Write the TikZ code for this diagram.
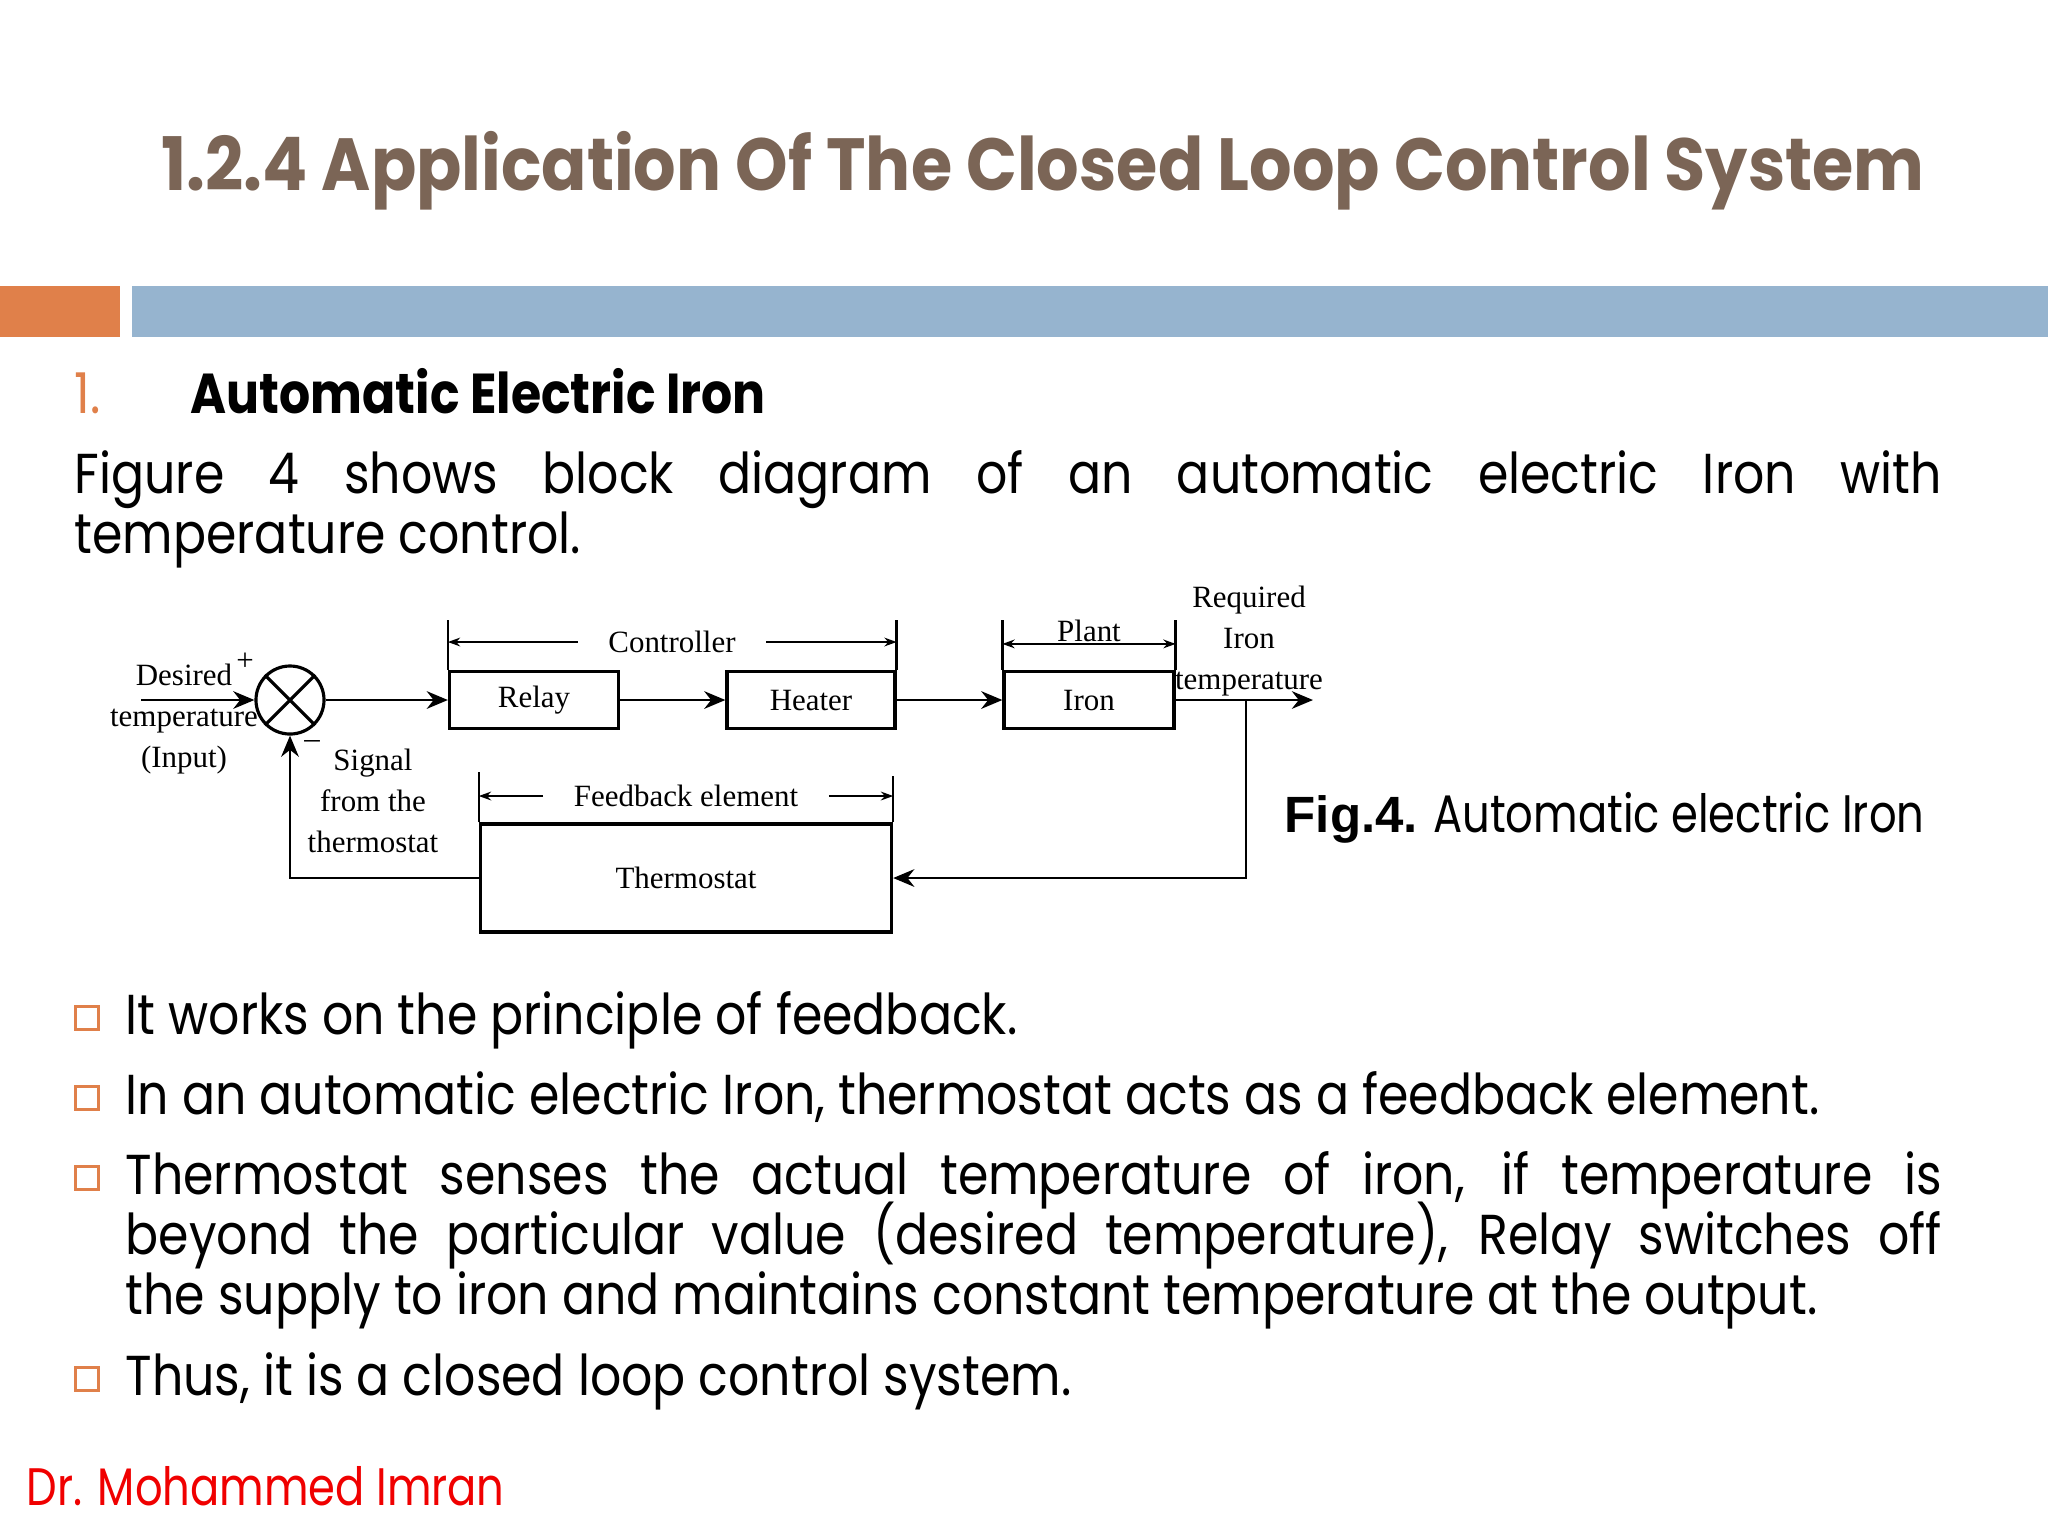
\documentclass[tikz,border=0pt]{standalone}
\usepackage{fontspec}
\setmainfont{Poppins}[FakeStretch=0.82]
\newfontfamily\bodyfont{Poppins}[FakeStretch=0.87]
\newfontfamily\titlefont{Poppins}[FakeStretch=0.905]
\newfontfamily\diagfont{Liberation Serif}
\newfontfamily\arialfont{Liberation Sans}
\usepackage{tikz}
\usetikzlibrary{arrows.meta, positioning, calc}
\definecolor{TitleBrown}{HTML}{7B6556}
\definecolor{BarOrange}{HTML}{E0804A}
\definecolor{BarBlue}{HTML}{96B4CF}
\definecolor{FootRed}{HTML}{F00000}
\setlength{\normallineskiplimit}{-20pt}
\tikzset{
  block/.style={rectangle, draw=black, line width=0.9pt, inner sep=0pt,
    font=\diagfont\fontsize{8.8}{11.7}\selectfont, minimum height=0.57cm},
  summer/.style={circle, draw=black, line width=0.9pt, minimum size=0.68cm, inner sep=0pt},
  arrow/.style={-{Stealth[length=6pt,width=5pt]}, line width=0.8pt},
  dimline/.style={-{Stealth[length=3.5pt,width=2.5pt]}, line width=0.5pt},
  dimboth/.style={{Stealth[length=3.5pt,width=2.5pt]}-{Stealth[length=3.5pt,width=2.5pt]}, line width=0.5pt},
  tickline/.style={line width=0.7pt},
  diaglabel/.style={font=\diagfont\fontsize{8.8}{11.7}\selectfont, inner sep=0pt, align=center},
  bodytext/.style={font=\bodyfont\fontsize{16}{17.07}\selectfont,
    inner sep=0pt, anchor=base west, align=justify},
  bulletbox/.style={draw=BarOrange, line width=0.8pt, minimum size=0.23cm, inner sep=0pt},
}

\begin{document}
\setlength{\lineskiplimit}{-20pt}
\begin{tikzpicture}[x=0.01cm, y=-0.01cm]
  \useasboundingbox (0,0) rectangle (2048,1535);
  \fill[white] (0,0) rectangle (2048,1535);

  % Title and bars
  \node[anchor=base, inner sep=0pt, text=TitleBrown, font=\titlefont\bfseries\fontsize{21}{24}\selectfont]
    (title) at (1043,190) {1.2.4 Application Of The Closed Loop Control System};
  \fill[BarOrange] (0,286) rectangle (120,337);
  \fill[BarBlue] (132,286) rectangle (2048,337);

  % Heading
  \node[anchor=base west, inner sep=0pt, text=BarOrange, font=\bodyfont\fontsize{16}{18}\selectfont]
    (num) at (74,413) {1.};
  \node[anchor=base west, inner sep=0pt, font=\bodyfont\bfseries\fontsize{16}{18}\selectfont]
    (heading) at (190,413) {Automatic Electric Iron};

  % Intro
  \node[bodytext, text width=18.66cm] (intro) at (74,493)
    {Figure 4 shows block diagram of an automatic electric Iron with\linebreak temperature control.};

  % Blocks
  \node[summer] (sum) at (290,700) {};
  \draw[line width=0.9pt] (sum.north west) -- (sum.south east)
    (sum.north east) -- (sum.south west);
  \node[block, minimum width=1.69cm] (relay) at (534,700) {Relay};
  \node[block, minimum width=1.68cm] (heater) at (811,700) {Heater};
  \node[block, minimum width=1.70cm] (iron) at (1089,700) {Iron};
  \node[block, minimum width=4.11cm, minimum height=1.08cm] (thermo) at (686,878) {Thermostat};

  % Signal path
  \coordinate (in) at (141,700);
  \coordinate (out) at (1313,700);
  \coordinate (tap) at (1246,700);
  \draw[arrow] (in) -- (sum.west);
  \draw[arrow] (sum.east) -- (relay.west);
  \draw[arrow] (relay) -- (heater);
  \draw[arrow] (heater) -- (iron);
  \draw[arrow] (iron.east) -- (out);
  \draw[arrow] (tap) |- (thermo.east);
  \draw[arrow] (thermo.west) -| (sum.south);

  % Labels
  \node[diaglabel] (desired) at (184,719) {Desired\\temperature\\(Input)};
  \node[diaglabel] (plus) at (245,662) {+};
  \node[diaglabel] (minus) at (312,744) {\textendash};
  \node[diaglabel] (signal) at (373,801) {Signal\\from the\\thermostat};
  \node[diaglabel] (required) at (1249,641) {Required\\Iron\\temperature};

  % Controller span
  \draw[tickline] (relay.north west) -- ++(0,-50) coordinate (ctlL);
  \draw[tickline] (heater.north east) -- ++(0,-50) coordinate (ctlR);
  \node[diaglabel, inner xsep=0.3cm] (ctl) at (672,642) {Controller};
  \draw[dimline] (ctl.west) -- (ctl.west -| ctlL);
  \draw[dimline] (ctl.east) -- (ctl.east -| ctlR);

  % Plant span
  \draw[tickline] (iron.north west) -- ++(0,-50) coordinate (plL);
  \draw[tickline] (iron.north east) -- ++(0,-50) coordinate (plR);
  \node[diaglabel] (plant) at (1089,631) {Plant};
  \draw[dimboth] ($(plL)+(0,24)$) -- ($(plR)+(0,24)$);

  % Feedback element span
  \draw[tickline] (thermo.north west) -- ++(0,-50) coordinate (fbL);
  \draw[tickline] (thermo.north east) -- ++(0,-46) coordinate (fbR);
  \node[diaglabel, inner xsep=0.3cm] (fbe) at (686,796) {Feedback element};
  \draw[dimline] (fbe.west) -- (fbe.west -| fbL);
  \draw[dimline] (fbe.east) -- (fbe.east -| fbR);

  % Caption
  \node[anchor=base west, inner sep=0pt, font=\fontsize{15}{18}\selectfont]
    (caption) at (1284,832) {{\arialfont\bfseries\fontsize{14.5}{18}\selectfont Fig.4.} Automatic electric Iron};

  % Bullets
  \node[bulletbox] (b1) at (87,1018) {};
  \node[bodytext, text width=18.15cm] (p1) at (125,1034)
    {It works on the principle of feedback.};
  \node[bulletbox] (b2) at (87,1098) {};
  \node[bodytext, text width=18.15cm] (p2) at (125,1114)
    {In an automatic electric Iron, thermostat acts as a feedback element.};
  \node[bulletbox] (b3) at (87,1178) {};
  \node[bodytext, text width=18.15cm] (p3) at (125,1194)
    {\lineskiplimit=-20pt\relax
     Thermostat senses the actual temperature of iron, if temperature is\linebreak
     beyond the particular value (desired temperature), Relay switches off\linebreak
     the supply to iron and maintains constant temperature at the output.};
  \node[bulletbox] (b4) at (87,1379) {};
  \node[bodytext, text width=18.15cm] (p4) at (125,1395)
    {Thus, it is a closed loop control system.};

  % Footer
  \node[anchor=base west, inner sep=0pt, text=FootRed, font=\fontsize{15}{18}\selectfont]
    (footer) at (26,1505) {Dr. Mohammed Imran};
\end{tikzpicture}
\end{document}
